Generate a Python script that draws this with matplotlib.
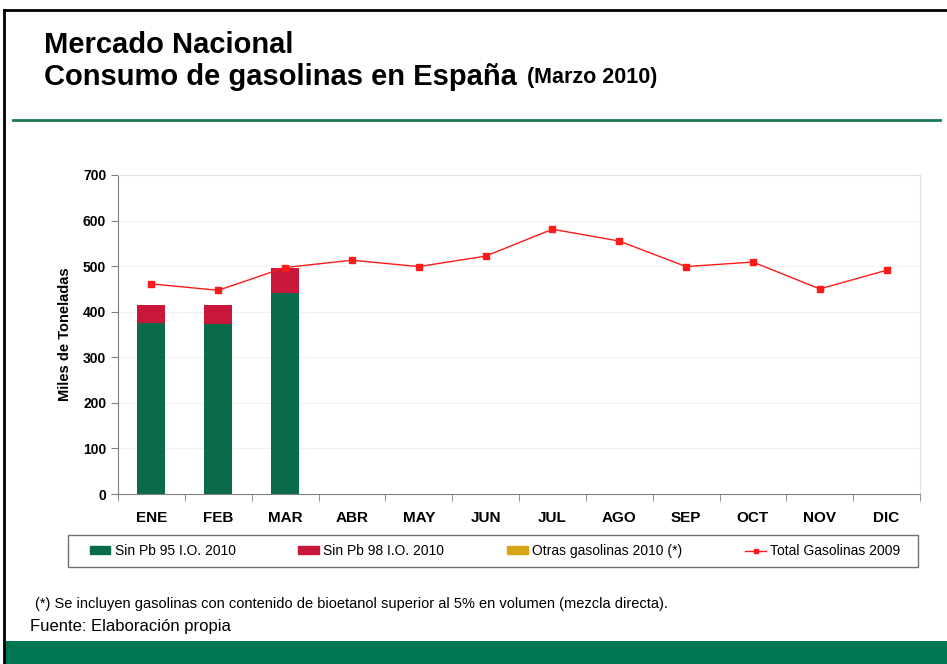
import numpy as np
import matplotlib.pyplot as plt
from matplotlib.patches import Rectangle, Patch
from matplotlib.lines import Line2D

plt.rcParams['font.family'] = ['Liberation Sans', 'DejaVu Sans']

# Data (miles de toneladas)
meses = ["ENE", "FEB", "MAR", "ABR", "MAY", "JUN", "JUL", "AGO", "SEP", "OCT", "NOV", "DIC"]
sin_pb95_2010 = [375, 374, 441]
sin_pb98_2010 = [40, 41, 55]
otras_2010 = [0, 0, 0]
total_2009 = [461, 447, 497, 513, 499, 522, 581, 555, 499, 509, 450, 491]

green = "#0a6b4a"
red = "#c8173a"
gold = "#d9a514"
line_red = "#ff1a1a"

fig = plt.figure(figsize=(9.47, 6.64), dpi=100)

# Slide decoration
fig.add_artist(Line2D([4 / 947, 4 / 947], [0, 1 - 10 / 664], transform=fig.transFigure, color="black", lw=2))
fig.add_artist(Line2D([4 / 947, 1], [1 - 10 / 664, 1 - 10 / 664], transform=fig.transFigure, color="black", lw=2))
fig.add_artist(Line2D([13 / 947, 940 / 947], [1 - 120 / 664, 1 - 120 / 664], transform=fig.transFigure,
                      color="#1b7a52", lw=2))
fig.add_artist(Rectangle((5 / 947, 0), 1, 23 / 664, transform=fig.transFigure, color="#007552", lw=0))

fig.text(44 / 947, 1 - 45 / 664, "Mercado Nacional", fontsize=21, fontweight="bold", va="center")
t2 = fig.text(44 / 947, 1 - 77 / 664, "Consumo de gasolinas en España", fontsize=21, fontweight="bold", va="center")
fig.canvas.draw()
bb = t2.get_window_extent()
fig.text(bb.x1 / fig.bbox.width + 10 / 947, 1 - 78 / 664, "(Marzo 2010)", fontsize=15.5, fontweight="bold", va="center")

ax = fig.add_axes([118 / 947, 1 - 494 / 664, 802 / 947, 319 / 664])
x = np.arange(len(meses))
n = len(sin_pb95_2010)
ax.bar(x[:n], sin_pb95_2010, width=0.42, color=green, zorder=2)
ax.bar(x[:n], sin_pb98_2010, bottom=sin_pb95_2010, width=0.42, color=red, zorder=2)
ax.bar(x[:n], otras_2010, bottom=np.add(sin_pb95_2010, sin_pb98_2010), width=0.42, color=gold, zorder=2)
ax.plot(x, total_2009, color=line_red, lw=1, marker="s", markersize=4, zorder=3)

ax.set_xlim(-0.5, len(meses) - 0.5)
ax.set_ylim(0, 700)
ax.set_yticks(range(0, 701, 100))
ax.set_xticks(x)
ax.set_xticklabels(meses, fontsize=11, fontweight="bold")
ax.set_xticks(np.arange(-0.5, len(meses), 1), minor=True)
ax.tick_params(axis="x", which="major", length=0, pad=12)
ax.tick_params(axis="x", which="minor", length=5, color="#808080")
ax.tick_params(axis="y", length=5, color="#808080", labelsize=10)
for lab in ax.get_yticklabels():
    lab.set_fontweight("bold")
ax.yaxis.grid(True, color="#f0f0f0", lw=0.8, zorder=0)
ax.set_axisbelow(True)
for s in ["left", "bottom"]:
    ax.spines[s].set_color("#808080")
for s in ["top", "right"]:
    ax.spines[s].set_color("#e0e0e0")
ax.set_ylabel("Miles de Toneladas", fontsize=10.5, fontweight="bold", labelpad=8)

handles = [
    Patch(color=green),
    Patch(color=red),
    Patch(color=gold),
    Line2D([], [], color=line_red, lw=1, marker="s", markersize=3),
]
labels = ["Sin Pb 95 I.O. 2010", "Sin Pb 98 I.O. 2010", "Otras gasolinas 2010 (*)", "Total Gasolinas 2009"]
fig.add_artist(Rectangle((68 / 947, 1 - 567 / 664), 850 / 947, 32 / 664, transform=fig.transFigure,
                         facecolor="none", edgecolor="#707070", lw=1))
leg = fig.legend(handles, labels, loc="center", ncol=4, bbox_to_anchor=(84 / 947, 1 - 567 / 664, 822 / 947, 32 / 664),
                 mode="expand", fontsize=10, frameon=False, borderaxespad=0,
                 handlelength=1.5, handleheight=0.5, handletextpad=0.3)

fig.text(35 / 947, 1 - 604 / 664, "(*) Se incluyen gasolinas con contenido de bioetanol superior al 5% en volumen (mezcla directa).",
         fontsize=10.5, va="center")
fig.text(30 / 947, 1 - 627 / 664, "Fuente: Elaboración propia", fontsize=12, va="center")

fig.savefig("out.png", dpi=100)
